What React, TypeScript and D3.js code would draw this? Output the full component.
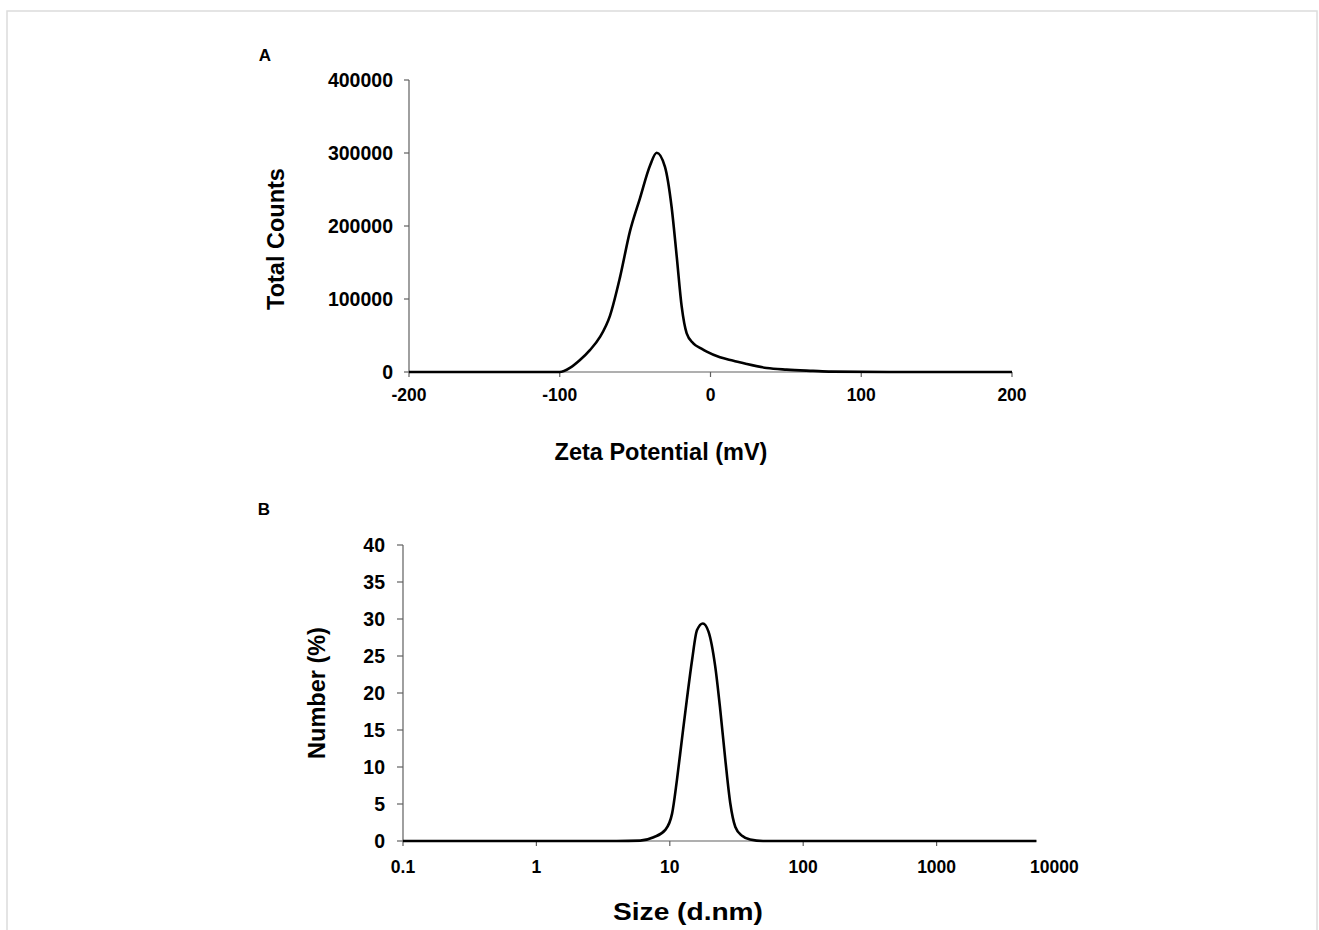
import React from "react";
import * as d3 from "d3";

// Panel A: Zeta potential distribution
const zetaMv = [-200, -150, -100, -93, -86.6, -80, -73.3, -66.7, -60, -53.4, -46.8, -40.1, -35.7, -30.2, -25.8, -22.4, -19.1, -15.8, -11.4, -6, -2.5, 6.3, 15.2, 24, 37.3, 50.5, 68, 80, 120, 200];
const zetaCounts = [0, 0, 0, 6000, 16400, 30000, 48000, 77000, 130000, 193000, 238000, 283000, 300400, 281000, 226000, 158000, 89500, 53000, 39300, 32000, 27800, 20100, 15500, 11000, 5500, 3200, 1500, 500, 0, 0];
const zetaXTicks = [-200, -100, 0, 100, 200];
const zetaYTicks = [0, 100000, 200000, 300000, 400000];

// Panel B: size distribution by number
const sizeNm = [0.1, 1, 4, 6, 7.56, 9.25, 10.4, 11.3, 12.3, 13.4, 14.7, 16.0, 17.7, 19.5, 21.9, 23.9, 26.1, 28.4, 31, 34.8, 40, 50, 100, 1000, 5600];
const sizePct = [0, 0, 0, 0.05, 0.5, 1.5, 3.7, 8.2, 13.6, 19, 24.5, 28.5, 29.4, 28.3, 23.6, 17.7, 10.9, 5.1, 1.9, 0.7, 0.2, 0, 0, 0, 0];
const sizeXTicks = [0.1, 1, 10, 100, 1000, 10000];
const sizeYTicks = [0, 5, 10, 15, 20, 25, 30, 35, 40];
const sizeAxisEnd = 5600;

const FONT = "'Liberation Sans', Arial, sans-serif";
const AXIS = "#606060";

export default function App() {
  // Panel A scales
  const xA = d3.scaleLinear().domain([-200, 200]).range([409, 1012]);
  const yA = d3.scaleLinear().domain([0, 400000]).range([372, 80]);
  const lineA = d3
    .line<number>()
    .x((_, i) => xA(zetaMv[i]))
    .y((d) => yA(d))
    .curve(d3.curveMonotoneX);

  // Panel B scales
  const xB = d3.scaleLog().domain([0.1, 10000]).range([403, 1070]);
  const yB = d3.scaleLinear().domain([0, 40]).range([841, 545]);
  const lineB = d3
    .line<number>()
    .x((_, i) => xB(sizeNm[i]))
    .y((d) => yB(d))
    .curve(d3.curveMonotoneX);

  const xTickFs = 17.5;
  const yTickFs = 19.5;
  const titleFs = 23.5;

  return (
    <svg
      width={1319}
      height={930}
      style={{ position: "absolute", left: 0, top: 0, background: "#fff" }}
      fontFamily={FONT}
    >
      <rect x={7} y={11} width={1310} height={940} fill="none" stroke="#dcdcdc" strokeWidth={1.5} />

      {/* Panel A */}
      <text x={265} y={61} fontSize={17} fontWeight="bold" textAnchor="middle">A</text>
      <line x1={xA(-200)} x2={xA(-200)} y1={yA(0)} y2={yA(400000)} stroke={AXIS} strokeWidth={1.2} />
      <line x1={xA(-200)} x2={xA(200)} y1={yA(0)} y2={yA(0)} stroke={AXIS} strokeWidth={1.2} />
      {zetaYTicks.map((t) => (
        <g key={"ya" + t}>
          <line x1={xA(-200) - 5} x2={xA(-200)} y1={yA(t)} y2={yA(t)} stroke={AXIS} strokeWidth={1.2} />
          <text x={393} y={yA(t)} dy="0.35em" fontSize={yTickFs} fontWeight="bold" textAnchor="end">{t}</text>
        </g>
      ))}
      {zetaXTicks.map((t) => (
        <g key={"xa" + t}>
          <line x1={xA(t)} x2={xA(t)} y1={yA(0)} y2={yA(0) + 5} stroke={AXIS} strokeWidth={1.2} />
          <text x={xA(t)} y={401} fontSize={xTickFs} fontWeight="bold" textAnchor="middle">{t}</text>
        </g>
      ))}
      <path d={lineA(zetaCounts) || ""} fill="none" stroke="#000" strokeWidth={2.6} strokeLinejoin="round" />
      <text x={661} y={460} fontSize={titleFs} fontWeight="bold" textAnchor="middle">Zeta Potential (mV)</text>
      <text transform={`translate(284,${(yA(0) + yA(400000)) / 2 + 13}) rotate(-90)`} fontSize={titleFs} fontWeight="bold" textAnchor="middle">Total Counts</text>

      {/* Panel B */}
      <text x={264} y={515} fontSize={17} fontWeight="bold" textAnchor="middle">B</text>
      <line x1={xB(0.1)} x2={xB(0.1)} y1={yB(0)} y2={yB(40)} stroke={AXIS} strokeWidth={1.2} />
      <line x1={xB(0.1)} x2={xB(sizeAxisEnd)} y1={yB(0)} y2={yB(0)} stroke={AXIS} strokeWidth={1.2} />
      {sizeYTicks.map((t) => (
        <g key={"yb" + t}>
          <line x1={xB(0.1) - 6} x2={xB(0.1)} y1={yB(t)} y2={yB(t)} stroke={AXIS} strokeWidth={1.2} />
          <text x={385} y={yB(t)} dy="0.35em" fontSize={yTickFs} fontWeight="bold" textAnchor="end">{t}</text>
        </g>
      ))}
      {sizeXTicks.map((t) => {
        const px = Math.min(xB(t), xB(sizeAxisEnd) + 18);
        return (
          <g key={"xb" + t}>
            {t <= sizeAxisEnd && (
              <line x1={xB(t)} x2={xB(t)} y1={yB(0)} y2={yB(0) + 5} stroke={AXIS} strokeWidth={1.2} />
            )}
            <text x={px} y={873} fontSize={xTickFs} fontWeight="bold" textAnchor="middle">{t}</text>
          </g>
        );
      })}
      <path d={lineB(sizePct) || ""} fill="none" stroke="#000" strokeWidth={2.6} strokeLinejoin="round" />
      <text x={688} y={920} fontSize={24} fontWeight="bold" textAnchor="middle" textLength={150} lengthAdjust="spacingAndGlyphs">Size (d.nm)</text>
      <text transform={`translate(325,${(yB(0) + yB(40)) / 2}) rotate(-90)`} fontSize={titleFs} fontWeight="bold" textAnchor="middle">Number (%)</text>
    </svg>
  );
}
